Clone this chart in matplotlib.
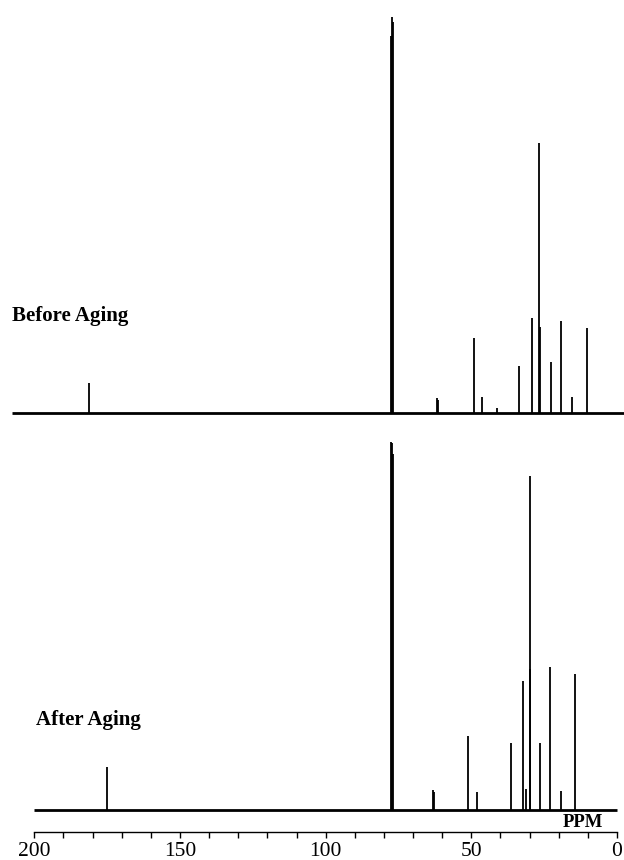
import matplotlib
matplotlib.use('Agg')
import matplotlib.pyplot as plt

plt.rcParams['font.family'] = ['Liberation Serif', 'DejaVu Serif']

# 13C NMR peak lists (ppm, relative intensity; CDCl3 centre line = 100)
before_ppm = [181.3, 77.48, 77.16, 76.84, 61.9, 61.5, 49.2, 46.2, 41.2,
              33.7, 29.2, 26.7, 26.4, 22.5, 19.2, 15.6, 10.2]
before_int = [7.6, 95.0, 100.0, 98.7, 3.8, 3.3, 19.0, 4.0, 1.3,
              11.9, 24.0, 68.2, 21.7, 12.9, 23.2, 4.0, 21.5]

after_ppm = [175.1, 77.48, 77.16, 76.84, 63.0, 62.7, 51.0, 48.2, 36.5,
             32.2, 31.2, 30.0, 29.8, 26.3, 23.1, 19.2, 14.4]
after_int = [10.9, 93.0, 92.8, 90.0, 5.0, 4.6, 18.7, 4.5, 17.0,
             32.6, 5.3, 84.3, 35.6, 17.0, 36.1, 4.8, 34.3]

# spectral windows of each trace
before_range = (207.7, -2.4)
after_range = (200.0, 0.0)

W, H = 624, 860
fig = plt.figure(figsize=(W / 100, H / 100), dpi=100)
ax = fig.add_axes([34.3 / W, 28 / H, (617 - 34.3) / W, 1 - 28 / H])

before_off = 105.8
after_off = 5.5

for ppm, inten, rng, off in [(before_ppm, before_int, before_range, before_off),
                             (after_ppm, after_int, after_range, after_off)]:
    ax.hlines(off, rng[0], rng[1], color='black', lw=2.0, clip_on=False)
    ax.vlines(ppm, off, [off + v for v in inten], color='black', lw=1.3,
              clip_on=False)

ax.set_xlim(200, 0)
ax.set_ylim(0, 210)
ax.set_xticks(range(0, 201, 50))
ax.set_xticks(range(0, 201, 10), minor=True)
ax.tick_params(axis='x', which='both', direction='out', length=4, width=1,
               labelsize=15.5, pad=3.5)
ax.set_yticks([])
for side in ['top', 'left', 'right']:
    ax.spines[side].set_visible(False)
ax.spines['bottom'].set_linewidth(1)
ax.patch.set_visible(False)

fig.text(12 / W, 1 - 320.7 / H, 'Before Aging', fontsize=15,
         fontweight='bold', va='baseline')
fig.text(36 / W, 1 - 725 / H, 'After Aging', fontsize=15,
         fontweight='bold', va='baseline')
fig.text(563 / W, 1 - 827.3 / H, 'PPM', fontsize=13.5, fontweight='bold',
         va='baseline')

fig.savefig('out.png', dpi=100)
